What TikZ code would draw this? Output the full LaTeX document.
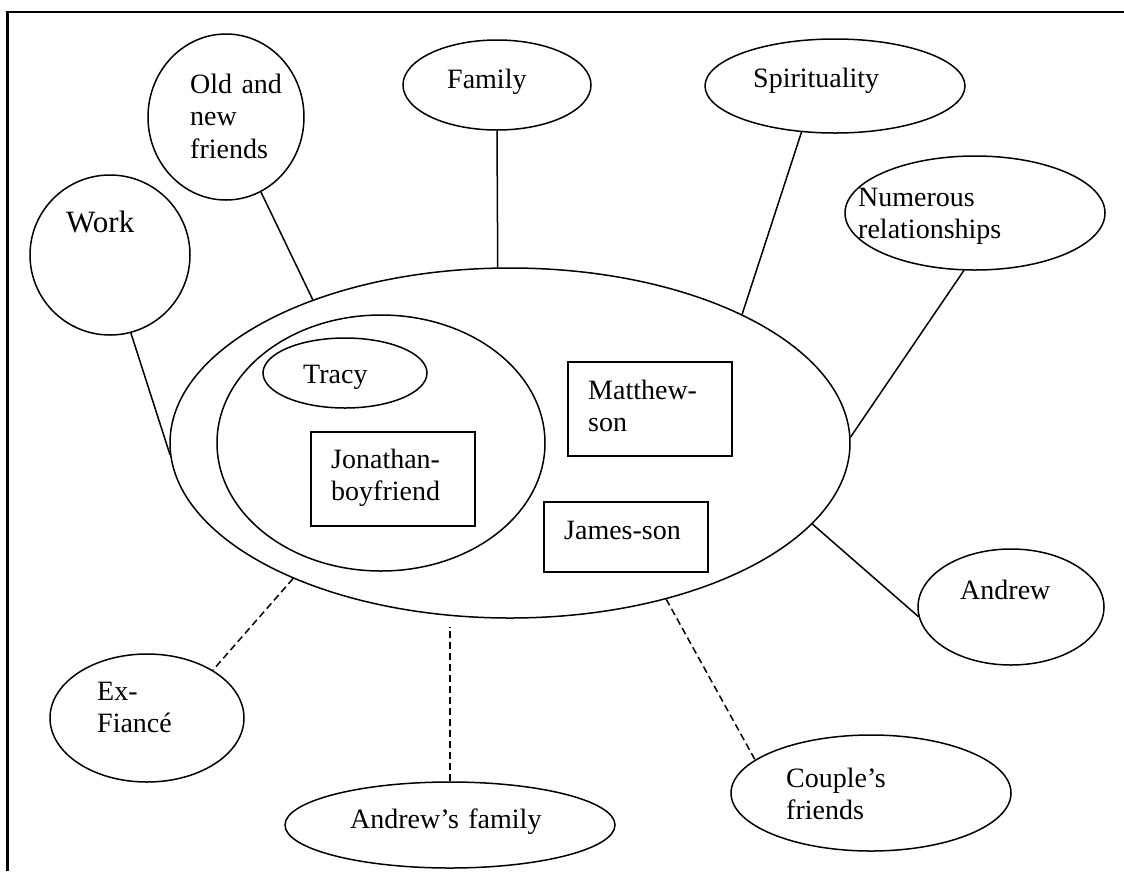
\documentclass[tikz,border=0pt]{standalone}
\usepackage{fontspec}
\setmainfont{Liberation Serif}
\usetikzlibrary{shapes.geometric}
\begin{document}
\begin{tikzpicture}[x=1pt,y=-1pt,
  oval/.style={ellipse, draw, line width=1.5pt, inner sep=0pt},
  card/.style={rectangle, draw, line width=1.5pt, inner sep=0pt},
  txt/.style={anchor=base west, inner sep=0pt, text width=260pt, align=left,
              font=\fontsize{28pt}{32.5pt}\selectfont},
  link/.style={line width=1.5pt},
  loose/.style={line width=1.5pt, dash pattern=on 7pt off 4pt}]
\useasboundingbox (0,0) rectangle (1124,871);

% open frame: left and top edges only
\draw[line width=2.5pt] (7.5,871) -- (7.5,12) -- (1124,12);

% central circle of relationships
\node[oval, minimum width=680pt, minimum height=350pt] (big) at (510,443) {};
\node[oval, minimum width=328pt, minimum height=256pt] (inner) at (381,443) {};
\node[oval, minimum width=164pt, minimum height=70pt] (tracy) at (345,373) {};
\node[card, minimum width=164pt, minimum height=94pt] (jon) at (393,479) {};
\node[card, minimum width=164pt, minimum height=94pt] (matt) at (650,409) {};
\node[card, minimum width=164pt, minimum height=70pt] (james) at (626,537) {};

% outer circles
\node[oval, minimum width=160pt, minimum height=160pt] (work) at (110,255) {};
\node[oval, minimum width=156pt, minimum height=166pt] (friends) at (226,117) {};
\node[oval, minimum width=188pt, minimum height=90pt] (family) at (497,85) {};
\node[oval, minimum width=260pt, minimum height=94pt] (spirit) at (835,86) {};
\node[oval, minimum width=260pt, minimum height=114pt] (numerous) at (975,213) {};
\node[oval, minimum width=186pt, minimum height=116pt] (andrew) at (1011,607) {};
\node[oval, minimum width=194pt, minimum height=128pt] (ex) at (147,718) {};
\node[oval, minimum width=330pt, minimum height=86pt] (afam) at (450,825) {};
\node[oval, minimum width=280pt, minimum height=116pt] (couple) at (871,793) {};

% labels
\node[txt, font=\fontsize{31pt}{36pt}\selectfont] (t-work) at (66,232) {Work};
\node[txt] (t-friends) at (190,93) {Old and\\new\\friends};
\node[txt] (t-family) at (447,88) {Family};
\node[txt] (t-spirit) at (753,87) {Spirituality};
\node[txt] (t-numerous) at (858,206) {Numerous\\relationships};
\node[txt] (t-tracy) at (303,383) {Tracy};
\node[txt] (t-jon) at (331,468) {Jonathan-\\boyfriend};
\node[txt] (t-matt) at (588,399) {Matthew-\\son};
\node[txt] (t-james) at (564,539) {James-son};
\node[txt] (t-andrew) at (960,599) {Andrew};
\node[txt] (t-ex) at (97,700) {Ex-\\Fiancé};
\node[txt] (t-couple) at (786,787) {Couple’s\\friends};
\node[txt] (t-afam) at (350,828) {Andrew’s family};

% solid ties
\draw[link] (work.-75.4) -- (big.182.4);
\draw[link] (friends.-65) -- (big.144.8);
\draw[link] (family.south) -- (big.94.2);
\draw[link] (spirit.-126.7) -- (big.29.7);
\draw[link] (numerous.-101.3) -- (big.1.9);
\draw[link] (big.-15.7) -- (andrew.186.8);

% dashed ties
\draw[loose] (big.212.9) -- (ex.36.4);
\draw[loose, shorten >=8pt] (afam.north) -- (afam.north |- big.south);
\draw[loose] (big.-45.6) -- (couple.164);
\end{tikzpicture}
\end{document}
